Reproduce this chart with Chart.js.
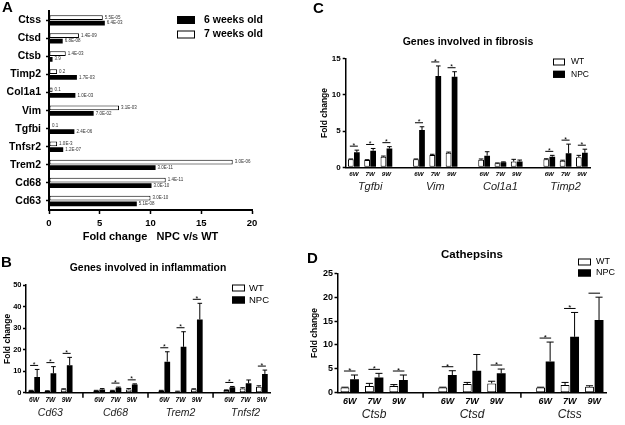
<!DOCTYPE html>
<html>
<head>
<meta charset="utf-8">
<script src="https://cdn.jsdelivr.net/npm/chart.js@4.4.0/dist/chart.umd.min.js"></script>
<style>
  body { margin: 0; background: #fff; }
  #wrap { position: relative; width: 625px; height: 425px; overflow: hidden; }
  canvas { position: absolute; }
</style>
</head>
<body>
<div id="wrap">
  <canvas id="panelA" width="310" height="245" style="left:0;top:0"></canvas>
  <canvas id="panelB" width="310" height="180" style="left:0;top:245px"></canvas>
  <canvas id="panelC" width="315" height="215" style="left:310px;top:0"></canvas>
  <canvas id="panelD" width="325" height="210" style="left:300px;top:215px"></canvas>
</div>
<script>
const FONT = "'Liberation Sans', Arial, sans-serif";

// A: fold change NPC v/s WT
const aGenes = ["Ctss", "Ctsd", "Ctsb", "Timp2", "Col1a1", "Vim", "Tgfbi", "Tnfsr2", "Trem2", "Cd68", "Cd63"];
const aSeven = [5.3, 2.95, 1.65, 0.8, 0.35, 6.9, 0.1, 0.8, 18.1, 11.5, 10.0];
const aSix = [5.5, 1.35, 0.35, 2.75, 2.6, 4.4, 2.5, 1.4, 10.5, 10.1, 8.65];
const aSevenNote = ["5.5E-05", "1.4E-09", "1.4E-03", "0.2", "0.1", "3.1E-03", "0.1", "1.0E-3", "3.0E-06", "1.4E-11", "3.0E-10"];
const aSixNote = ["6.4E-03", "6.8E-08", "3.9", "1.7E-03", "1.0E-03", "7.0E-02", "2.4E-06", "1.2E-07", "3.0E-11", "3.0E-10", "5.1E-08"];

const weeks = ["6W", "7W", "9W"];

// B: inflammation
const bGenes = ["Cd63", "Cd68", "Trem2", "Tnfsf2"];
const bWT = [1.0, 0.8, 1.6, 1.0, 1.0, 1.5, 1.0, 0.6, 1.6, 1.2, 2.0, 2.8];
const bWTErr = [0.1, 0.1, 0.2, 0.1, 0.1, 0.4, 0.1, 0.1, 0.2, 0.1, 0.3, 0.4];
const bNPC = [7.3, 9.0, 12.8, 1.5, 2.3, 3.8, 14.4, 21.3, 34.0, 2.5, 4.4, 8.7];
const bNPCErr = [3.5, 3.1, 3.6, 0.4, 0.3, 0.3, 4.6, 7.0, 7.5, 0.4, 1.5, 1.8];
const bSig = ["*", "*", "*", "", "*", "*", "*", "*", "*", "*", "", "*"];

// C: fibrosis
const cGenes = ["Tgfbi", "Vim", "Col1a1", "Timp2"];
const cWT = [1.1, 1.0, 1.47, 1.1, 1.7, 2.0, 1.05, 0.55, 0.8, 1.1, 0.9, 1.4];
const cWTErr = [0.05, 0.05, 0.08, 0.05, 0.1, 0.1, 0.1, 0.05, 0.3, 0.08, 0.08, 0.25];
const cNPC = [2.07, 2.3, 2.6, 5.15, 12.6, 12.5, 1.6, 0.7, 0.8, 1.47, 1.93, 2.0];
const cNPCErr = [0.3, 0.3, 0.25, 0.45, 1.4, 0.7, 0.55, 0.05, 0.2, 0.18, 1.27, 0.5];
const cSig = ["*", "*", "*", "*", "*", "*", "", "", "", "*", "*", "*"];

// D: cathepsins
const dGenes = ["Ctsb", "Ctsd", "Ctss"];
const dWT = [1.1, 1.4, 1.4, 1.1, 1.8, 1.95, 1.1, 1.6, 1.25];
const dWTErr = [0.05, 0.55, 0.3, 0.05, 0.35, 0.45, 0.05, 0.55, 0.2];
const dNPC = [2.8, 3.2, 2.65, 3.7, 4.6, 4.05, 6.55, 11.7, 15.2];
const dNPCErr = [0.9, 0.85, 1.05, 0.9, 3.4, 0.9, 4.05, 5.1, 4.8];
const dSig = ["*", "*", "*", "*", "", "*", "*", "*", "-"];

// 3 weeks per gene, one empty slot between genes
const slotLabels = (n) => {
  const out = [];
  for (let g = 0; g < n; g++) {
    weeks.forEach((w) => out.push(w));
    if (g < n - 1) out.push("");
  }
  return out;
};
const spread = (vals, n) => {
  const out = [];
  for (let g = 0; g < n; g++) {
    for (let k = 0; k < 3; k++) out.push(vals[g * 3 + k]);
    if (g < n - 1) out.push(null);
  }
  return out;
};

const panelText = {
  id: "panelText",
  afterDraw(chart, args, o) {
    const ctx = chart.ctx;
    ctx.save();
    ctx.fillStyle = "#000";
    ctx.textBaseline = "middle";
    if (o.letter) {
      ctx.font = `bold 15px ${FONT}`;
      ctx.textAlign = "left";
      ctx.fillText(o.letter.text, o.letter.x, o.letter.y);
    }
    if (o.title) {
      ctx.font = `bold ${o.title.size}px ${FONT}`;
      ctx.textAlign = "center";
      ctx.fillText(o.title.text, o.title.x, o.title.y);
    }
    if (o.legend) {
      const L = o.legend;
      L.order.forEach((d, k) => {
        const ds = chart.data.datasets[d];
        const yk = L.y + k * L.dy;
        ctx.fillStyle = ds.backgroundColor;
        ctx.fillRect(L.x, yk - L.h / 2, L.w, L.h);
        ctx.strokeStyle = "#000";
        ctx.lineWidth = 1;
        ctx.strokeRect(L.x + 0.5, yk - L.h / 2 + 0.5, L.w - 1, L.h - 1);
        ctx.fillStyle = "#000";
        ctx.font = `${L.weight || "normal"} ${L.size}px ${FONT}`;
        ctx.textAlign = "left";
        ctx.fillText(ds.label, L.x + L.w + L.gap, yk);
      });
    }
    ctx.restore();
  },
};

// p-value notes at the end of each bar in A
const barNotes = {
  id: "barNotes",
  afterDatasetsDraw(chart) {
    const ctx = chart.ctx;
    ctx.save();
    ctx.fillStyle = "#333";
    ctx.font = `4.5px ${FONT}`;
    ctx.textBaseline = "middle";
    ctx.textAlign = "left";
    chart.data.datasets.forEach((ds, d) => {
      chart.getDatasetMeta(d).data.forEach((bar, i) => {
        ctx.fillText(ds.notes[i], bar.x + 2, bar.y);
      });
    });
    ctx.restore();
  },
};

// error bars, significance marks, group names, separators
const decor = {
  id: "decor",
  afterDatasetsDraw(chart, args, o) {
    const { ctx, chartArea } = chart;
    const x = chart.scales.x;
    const y = chart.scales.y;
    const sets = chart.data.datasets;
    ctx.save();
    ctx.strokeStyle = "#000";
    ctx.lineWidth = 1;
    chart.data.labels.forEach((lab, i) => {
      if (!lab) return;
      const tops = [0, 1].map((d) => {
        const bar = chart.getDatasetMeta(d).data[i];
        const v = sets[d].data[i];
        const top = y.getPixelForValue(v + sets[d].errors[i]);
        const hw = bar.width * 0.4;
        ctx.beginPath();
        ctx.moveTo(bar.x, bar.y);
        ctx.lineTo(bar.x, top);
        ctx.moveTo(bar.x - hw, top);
        ctx.lineTo(bar.x + hw, top);
        ctx.stroke();
        return { top, x: bar.x };
      });
      const s = o.sig[i];
      if (s) {
        const yl = Math.min(tops[0].top, tops[1].top) - 4;
        ctx.beginPath();
        ctx.moveTo(tops[0].x - 1, yl);
        ctx.lineTo(tops[1].x + 1, yl);
        ctx.stroke();
        if (s === "*") {
          ctx.fillStyle = "#000";
          ctx.font = `${o.starSize}px ${FONT}`;
          ctx.textAlign = "center";
          ctx.textBaseline = "bottom";
          ctx.fillText("*", (tops[0].x + tops[1].x) / 2, yl + o.starSize * 0.45);
        }
      }
    });
    ctx.lineWidth = 1.5;
    if (o.separators) {
      chart.data.labels.forEach((lab, i) => {
        if (lab) return;
        const px = x.getPixelForTick(i);
        ctx.beginPath();
        ctx.moveTo(px, chartArea.bottom);
        ctx.lineTo(px, chartArea.bottom + 5);
        ctx.stroke();
      });
    }
    ctx.fillStyle = "#222";
    ctx.font = `italic ${o.geneSize}px ${FONT}`;
    ctx.textAlign = "center";
    ctx.textBaseline = "middle";
    o.genes.forEach((g, k) => {
      ctx.fillText(g, x.getPixelForTick(k * 4 + 1), chartArea.bottom + o.geneDy);
    });
    ctx.restore();
  },
};

function groupedPanel(id, genes, wt, wtErr, npc, npcErr, sig, look) {
  const n = genes.length;
  return new Chart(document.getElementById(id), {
    type: "bar",
    data: {
      labels: slotLabels(n),
      datasets: [
        {
          label: "WT",
          data: spread(wt, n),
          errors: spread(wtErr, n),
          backgroundColor: "#fff",
          borderColor: "#000",
          borderWidth: 1,
          borderSkipped: false,
        },
        {
          label: "NPC",
          data: spread(npc, n),
          errors: spread(npcErr, n),
          backgroundColor: "#000",
          borderColor: "#000",
          borderWidth: 0,
        },
      ],
    },
    options: {
      animation: false,
      responsive: false,
      devicePixelRatio: 1,
      layout: { padding: { left: 0, top: look.top, right: look.right, bottom: 0 } },
      datasets: { bar: { categoryPercentage: look.catPct, barPercentage: look.barPct } },
      plugins: {
        legend: { display: false },
        tooltip: { enabled: false },
        decor: {
          sig: spread(sig, n),
          genes: genes,
          geneSize: look.geneSize,
          geneDy: look.geneDy,
          separators: look.separators,
          starSize: look.starSize,
        },
        panelText: { letter: look.letter, title: look.title, legend: look.legend },
      },
      scales: {
        x: {
          grid: { display: true, drawOnChartArea: false, drawTicks: false },
          border: { color: "#000", width: 1.5 },
          ticks: {
            autoSkip: false,
            maxRotation: 0,
            padding: 3,
            color: "#000",
            font: { family: FONT, size: look.weekSize, style: "italic", weight: "bold" },
          },
          afterFit: (s) => { s.height = look.xHeight; },
        },
        y: {
          min: 0,
          max: look.max,
          ticks: {
            stepSize: look.step,
            color: "#000",
            padding: look.tickPad,
            font: { family: FONT, size: look.tickSize, weight: "bold" },
          },
          grid: { drawOnChartArea: false, tickLength: 3, tickWidth: 1.5, tickColor: "#000" },
          border: { color: "#000", width: 1.5 },
          title: {
            display: true,
            text: "Fold change",
            color: "#000",
            font: { family: FONT, size: 8.5, weight: "bold" },
            padding: { top: look.titlePad, bottom: 0 },
          },
          afterFit: (s) => { s.width = look.yWidth; },
        },
      },
    },
    plugins: [decor, panelText],
  });
}

// Panel A
new Chart(document.getElementById("panelA"), {
  type: "bar",
  data: {
    labels: aGenes,
    datasets: [
      {
        label: "7 weeks old",
        data: aSeven,
        notes: aSevenNote,
        backgroundColor: "#fff",
        borderColor: "#000",
        borderWidth: 1,
        borderSkipped: false,
      },
      {
        label: "6 weeks old",
        data: aSix,
        notes: aSixNote,
        backgroundColor: "#000",
        borderColor: "#000",
        borderWidth: 0,
      },
    ],
  },
  options: {
    indexAxis: "y",
    animation: false,
    responsive: false,
    devicePixelRatio: 1,
    layout: { padding: { left: 0, top: 11, right: 58, bottom: 0 } },
    datasets: { bar: { categoryPercentage: 0.62, barPercentage: 0.85 } },
    plugins: {
      legend: { display: false },
      tooltip: { enabled: false },
      panelText: {
        letter: { text: "A", x: 2, y: 8 },
        legend: { x: 177, y: 20, dy: 14.5, w: 18, h: 8, gap: 9, size: 10.5, weight: "bold", order: [1, 0] },
      },
    },
    scales: {
      x: {
        min: 0,
        max: 20,
        ticks: { stepSize: 5, color: "#000", padding: 4, font: { family: FONT, size: 9.5, weight: "bold" } },
        grid: { drawOnChartArea: false, tickLength: 4, tickWidth: 1.5, tickColor: "#000" },
        border: { color: "#000", width: 2 },
        title: {
          display: true,
          text: "Fold change   NPC v/s WT",
          color: "#000",
          font: { family: FONT, size: 11, weight: "bold" },
          padding: { top: 0, bottom: 1 },
        },
        afterFit: (s) => { s.height = 35; },
      },
      y: {
        ticks: { color: "#000", padding: 5, font: { family: FONT, size: 10.5, weight: "bold" } },
        grid: { drawOnChartArea: false, offset: false, tickLength: 3, tickWidth: 1.5, tickColor: "#000" },
        border: { color: "#000", width: 2 },
        afterFit: (s) => { s.width = 49; },
      },
    },
  },
  plugins: [barNotes, panelText],
});

groupedPanel("panelB", bGenes, bWT, bWTErr, bNPC, bNPCErr, bSig, {
  top: 40, right: 40, yWidth: 26, xHeight: 32.3,
  max: 50, step: 10, tickSize: 7.5, tickPad: 1.5, titlePad: 3,
  weekSize: 6.7, geneSize: 10.5, geneDy: 20, starSize: 7,
  catPct: 0.74, barPct: 0.95, separators: true,
  letter: { text: "B", x: 1, y: 18 },
  title: { text: "Genes involved in inflammation", x: 148, y: 23, size: 10.4 },
  legend: { x: 232, y: 43, dy: 12, w: 13, h: 7, gap: 4, size: 9.5, order: [0, 1] },
});

groupedPanel("panelC", cGenes, cWT, cWTErr, cNPC, cNPCErr, cSig, {
  top: 58.7, right: 35, yWidth: 35.7, xHeight: 47.7,
  max: 15, step: 5, tickSize: 8, tickPad: 2, titlePad: 10,
  weekSize: 6.2, geneSize: 11, geneDy: 20, starSize: 7,
  catPct: 0.74, barPct: 0.95, separators: false,
  letter: { text: "C", x: 3, y: 9 },
  title: { text: "Genes involved in fibrosis", x: 158, y: 42, size: 10.5 },
  legend: { x: 243, y: 62, dy: 12.3, w: 12, h: 7, gap: 6, size: 8.5, order: [0, 1] },
});

groupedPanel("panelD", dGenes, dWT, dWTErr, dNPC, dNPCErr, dSig, {
  top: 58.3, right: 18.5, yWidth: 37.5, xHeight: 32.3,
  max: 25, step: 5, tickSize: 9, tickPad: 1.5, titlePad: 10,
  weekSize: 9, geneSize: 12, geneDy: 22.3, starSize: 8,
  catPct: 0.78, barPct: 0.93, separators: true,
  letter: { text: "D", x: 7, y: 44 },
  title: { text: "Cathepsins", x: 172, y: 40, size: 11.5 },
  legend: { x: 278, y: 47, dy: 11, w: 13, h: 7, gap: 5, size: 9, order: [0, 1] },
});
</script>
</body>
</html>
